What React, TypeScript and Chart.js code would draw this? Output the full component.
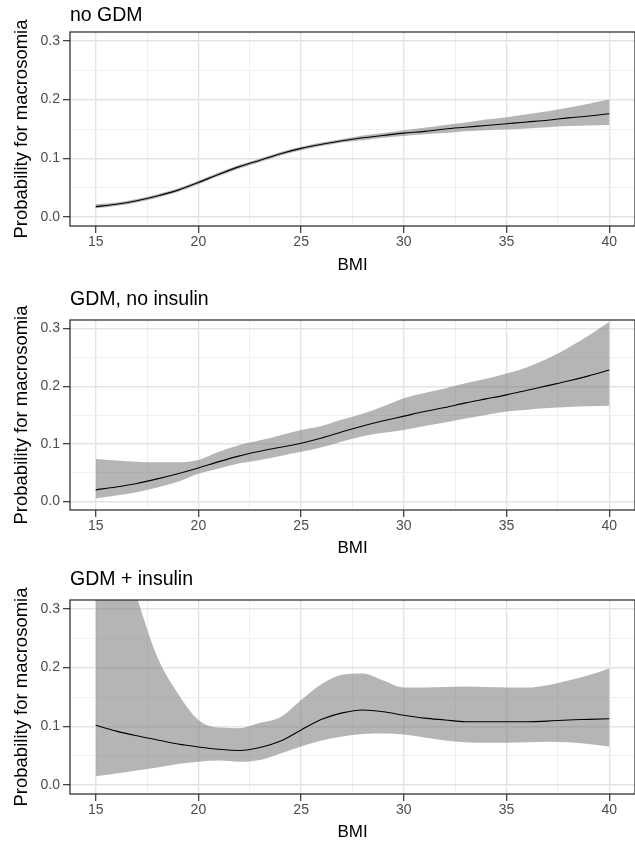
import React, { useEffect, useRef } from "react";
import { Chart, registerables } from "chart.js";

Chart.register(...registerables);

// ---------- data ----------
const BMI = [15, 16, 17, 18, 19, 20, 21, 22, 23, 24, 25, 26, 27, 28, 29, 30, 31, 32, 33, 34, 35, 36, 37, 38, 39, 40];

const noGdmFit = [0.018, 0.022, 0.028, 0.036, 0.046, 0.059, 0.073, 0.086, 0.097, 0.108, 0.117, 0.124, 0.130, 0.135, 0.139, 0.143, 0.146, 0.150, 0.153, 0.156, 0.159, 0.162, 0.165, 0.169, 0.172, 0.176];
const noGdmUpper = [0.022, 0.025, 0.031, 0.039, 0.049, 0.062, 0.076, 0.089, 0.100, 0.111, 0.120, 0.127, 0.133, 0.139, 0.143, 0.148, 0.152, 0.157, 0.161, 0.166, 0.170, 0.175, 0.180, 0.186, 0.193, 0.200];
const noGdmLower = [0.015, 0.019, 0.025, 0.033, 0.043, 0.056, 0.070, 0.083, 0.094, 0.105, 0.114, 0.121, 0.127, 0.131, 0.135, 0.138, 0.141, 0.143, 0.146, 0.148, 0.149, 0.151, 0.153, 0.155, 0.156, 0.157];

const gdmNoInsFit = [0.020, 0.025, 0.031, 0.039, 0.048, 0.058, 0.069, 0.079, 0.087, 0.094, 0.101, 0.110, 0.121, 0.131, 0.140, 0.148, 0.156, 0.163, 0.171, 0.178, 0.185, 0.193, 0.201, 0.209, 0.218, 0.228];
const gdmNoInsUpper = [0.0735, 0.071, 0.069, 0.068, 0.068, 0.072, 0.086, 0.098, 0.106, 0.115, 0.124, 0.131, 0.142, 0.152, 0.165, 0.179, 0.188, 0.196, 0.205, 0.213, 0.222, 0.233, 0.248, 0.267, 0.288, 0.312];
const gdmNoInsLower = [0.005, 0.010, 0.016, 0.024, 0.034, 0.048, 0.057, 0.066, 0.072, 0.079, 0.086, 0.094, 0.104, 0.113, 0.119, 0.124, 0.131, 0.137, 0.144, 0.150, 0.156, 0.159, 0.162, 0.164, 0.165, 0.166];

const gdmInsFit = [0.102, 0.092, 0.084, 0.077, 0.070, 0.065, 0.061, 0.059, 0.064, 0.075, 0.094, 0.112, 0.123, 0.128, 0.125, 0.119, 0.114, 0.111, 0.108, 0.108, 0.108, 0.108, 0.109, 0.111, 0.112, 0.113];
const gdmInsUpper = [0.55, 0.43, 0.32, 0.218, 0.156, 0.111, 0.098, 0.097, 0.106, 0.116, 0.145, 0.172, 0.188, 0.190, 0.178, 0.166, 0.166, 0.167, 0.168, 0.167, 0.166, 0.166, 0.170, 0.178, 0.187, 0.199];
const gdmInsLower = [0.015, 0.020, 0.025, 0.030, 0.036, 0.040, 0.042, 0.040, 0.043, 0.054, 0.066, 0.076, 0.083, 0.087, 0.088, 0.086, 0.081, 0.076, 0.073, 0.072, 0.072, 0.073, 0.074, 0.073, 0.070, 0.066];

const PANEL_TITLES = ["no GDM", "GDM, no insulin", "GDM + insulin"];
const X_TICKS = [15, 17.5, 20, 22.5, 25, 27.5, 30, 32.5, 35, 37.5, 40];
const Y_TICKS = [0, 0.05, 0.1, 0.15, 0.2, 0.25, 0.3];
const X_LABEL = "BMI";
const Y_LABEL = "Probability for macrosomia";

// ---------- style / layout ----------
const FONT = "'Liberation Sans', Arial, sans-serif";
const BAND = "rgba(120,120,120,0.55)";
const W = 635;

const GEOM = [
  { top: 0, height: 280, boxTop: 32, boxBottom: 226, titleY: 16, bmiPad: 4 },
  { top: 280, height: 282, boxTop: 40, boxBottom: 230, titleY: 20, bmiPad: 3 },
  { top: 562, height: 281, boxTop: 38, boxBottom: 232, titleY: 20, bmiPad: 0 },
];

const isMajorX = (v: number) => Math.abs(v % 5) < 1e-9;
const isMajorY = (v: number) => Math.round(v * 100) % 10 === 0;

const boxPlugin = {
  id: "panelBox",
  afterDraw(chart: any, _args: any, opts: any) {
    const { ctx, chartArea: a } = chart;
    ctx.save();
    ctx.strokeStyle = "#333333";
    ctx.lineWidth = 1.3;
    ctx.strokeRect(a.left, a.top, a.right - a.left, a.bottom - a.top);
    ctx.fillStyle = "#000000";
    ctx.font = `19.5px ${FONT}`;
    ctx.textBaseline = "middle";
    ctx.textAlign = "left";
    ctx.fillText(opts.title, a.left, opts.titleY);
    ctx.restore();
  },
};

function Panel(props: { idx: number; fit: number[]; lower: number[]; upper: number[] }) {
  const ref = useRef<HTMLCanvasElement>(null);
  const g = GEOM[props.idx];
  useEffect(() => {
    const pts = (arr: number[]) => BMI.map((x, i) => ({ x, y: arr[i] }));
    const chart = new Chart(ref.current!, {
      type: "line",
      data: {
        datasets: [
          { data: pts(props.fit), borderColor: "#000000", borderWidth: 1.1, pointRadius: 0, fill: false, cubicInterpolationMode: "monotone" },
          { data: pts(props.upper), borderColor: "rgba(0,0,0,0)", borderWidth: 0, pointRadius: 0, fill: "+1", backgroundColor: BAND, cubicInterpolationMode: "monotone" },
          { data: pts(props.lower), borderColor: "rgba(0,0,0,0)", borderWidth: 0, pointRadius: 0, fill: false, cubicInterpolationMode: "monotone" },
        ],
      } as any,
      options: {
        animation: false,
        responsive: false,
        devicePixelRatio: 1,
        layout: { padding: { top: g.boxTop, left: 0, right: 0, bottom: 0 } },
        plugins: {
          legend: { display: false },
          tooltip: { enabled: false },
          title: { display: false },
          panelBox: { title: PANEL_TITLES[props.idx], titleY: g.boxTop - g.titleY },
        } as any,
        scales: {
          x: {
            type: "linear",
            min: 13.75,
            max: 41.25,
            bounds: "data",
            afterBuildTicks: (s: any) => {
              s.ticks = X_TICKS.map((v) => ({ value: v }));
            },
            afterFit: (s: any) => {
              s.height = g.height - g.boxBottom;
            },
            border: { display: false },
            grid: {
              color: (c: any) => (c.tick && isMajorX(c.tick.value) ? "#E4E4E4" : "#EEEEEE"),
              lineWidth: (c: any) => (c.tick && isMajorX(c.tick.value) ? 1.4 : 0.9),
              tickColor: (c: any) => (c.tick && isMajorX(c.tick.value) ? "#333333" : "rgba(0,0,0,0)"),
              tickWidth: 1.2,
              tickLength: 7,
              drawTicks: true,
            },
            ticks: {
              autoSkip: false,
              maxRotation: 0,
              padding: 1,
              color: "#4D4D4D",
              font: { family: FONT, size: 14 },
              callback: (v: any) => (isMajorX(Number(v)) ? String(v) : ""),
            },
            title: {
              display: true,
              text: X_LABEL,
              color: "#000000",
              font: { family: FONT, size: 17 },
              padding: { top: 0, bottom: g.bmiPad },
            },
          },
          y: {
            type: "linear",
            min: -0.015,
            max: 0.315,
            bounds: "data",
            afterBuildTicks: (s: any) => {
              s.ticks = Y_TICKS.map((v) => ({ value: v }));
            },
            afterFit: (s: any) => {
              s.width = 70;
            },
            border: { display: false },
            grid: {
              color: (c: any) => (c.tick && isMajorY(c.tick.value) ? "#E4E4E4" : "#EEEEEE"),
              lineWidth: (c: any) => (c.tick && isMajorY(c.tick.value) ? 1.4 : 0.9),
              tickColor: (c: any) => (c.tick && isMajorY(c.tick.value) ? "#333333" : "rgba(0,0,0,0)"),
              tickWidth: 1.2,
              tickLength: 7,
              drawTicks: true,
            },
            ticks: {
              autoSkip: false,
              padding: 3,
              color: "#4D4D4D",
              font: { family: FONT, size: 14 },
              callback: (v: any) => (isMajorY(Number(v)) ? Number(v).toFixed(1) : ""),
            },
            title: {
              display: true,
              text: Y_LABEL,
              color: "#000000",
              font: { family: FONT, size: 18.5 },
              padding: { top: 11, bottom: 0 },
            },
          },
        },
      } as any,
      plugins: [boxPlugin],
    });
    return () => chart.destroy();
  }, []);
  return (
    <canvas
      ref={ref}
      width={W}
      height={g.height}
      style={{ position: "absolute", left: 0, top: g.top, width: W, height: g.height }}
    />
  );
}

export default function App() {
  return (
    <div style={{ position: "fixed", left: 0, top: 0, width: W, height: 843, background: "#ffffff", overflow: "hidden" }}>
      <Panel idx={0} fit={noGdmFit} lower={noGdmLower} upper={noGdmUpper} />
      <Panel idx={1} fit={gdmNoInsFit} lower={gdmNoInsLower} upper={gdmNoInsUpper} />
      <Panel idx={2} fit={gdmInsFit} lower={gdmInsLower} upper={gdmInsUpper} />
    </div>
  );
}
